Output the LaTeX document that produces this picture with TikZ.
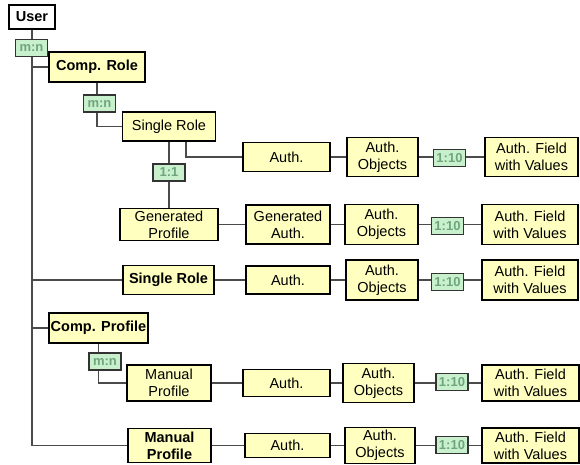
\documentclass[tikz,border=0pt]{standalone}
\usepackage{fontspec}
\setmainfont{Liberation Sans}
\usetikzlibrary{backgrounds}

\definecolor{boxfill}{RGB}{255,255,192}
\definecolor{cardfill}{RGB}{200,240,205}
\definecolor{cardtext}{RGB}{110,165,125}
\definecolor{wirecol}{RGB}{75,75,75}

\begin{document}
\begin{tikzpicture}[x=1pt, y=-1pt,
  entity/.style={draw=black, fill=boxfill, line width=1.3pt, inner sep=0pt, align=center,
    font=\fontsize{14.5}{17}\selectfont},
  head/.style={entity, font=\fontsize{14.5}{17}\selectfont\bfseries},
  card/.style={draw=black!80, fill=cardfill, text=cardtext, line width=1.1pt, inner sep=0pt,
    minimum width=32pt, minimum height=17pt, font=\fontsize{13}{13}\selectfont\bfseries},
  wire/.style={draw=wirecol, line width=1.4pt}]
\useasboundingbox (0,0) rectangle (580,464);

  % Roles
  \node[head, fill=white, minimum width=46pt, minimum height=24pt] (user) at (32,17) {User};
  \node[card] (mnuser) at (31.5,48) {m:n};
  \node[head, minimum width=96pt, minimum height=30pt] (comprole) at (97,67) {Comp. Role};
  \node[card] (mnrole) at (99.5,103.5) {m:n};
  \node[entity, minimum width=93pt, minimum height=29pt] (single) at (169,126.5) {Single Role};
  \node[card] (onetoone) at (169,172.5) {1:1};
  \node[entity, minimum width=98pt, minimum height=32pt] (genprof) at (169,224.5) {Generated\\Profile};
  \node[head, minimum width=91pt, minimum height=29pt] (single2) at (168.5,280) {Single Role};

  % Profiles
  \node[head, minimum width=99pt, minimum height=30pt] (compprof) at (98.5,328) {Comp. Profile};
  \node[card] (mnprof) at (105,361.5) {m:n};
  \node[entity, minimum width=84pt, minimum height=36pt] (manprof) at (169,383) {Manual\\Profile};
  \node[head, minimum width=83pt, minimum height=34pt] (manprof2) at (169.5,445.5) {Manual\\Profile};

  % Authorizations, row by row
  \node[entity, minimum width=87pt, minimum height=29pt] (auth1) at (286.5,157) {Auth.};
  \node[entity, minimum width=71pt, minimum height=39pt] (obj1) at (382.5,157) {Auth.\\Objects};
  \node[card] (ratio1) at (449.5,158) {1:10};
  \node[entity, minimum width=93pt, minimum height=39pt] (field1) at (531.5,157) {Auth. Field\\with Values};

  \node[entity, minimum width=84pt, minimum height=39pt] (auth2) at (288,224.5) {Generated\\Auth.};
  \node[entity, minimum width=73pt, minimum height=40pt] (obj2) at (381.5,224.5) {Auth.\\Objects};
  \node[card] (ratio2) at (447.5,226) {1:10};
  \node[entity, minimum width=96pt, minimum height=40pt] (field2) at (530,224.5) {Auth. Field\\with Values};

  \node[entity, minimum width=84pt, minimum height=28pt] (auth3) at (288,280) {Auth.};
  \node[entity, minimum width=72pt, minimum height=40pt] (obj3) at (382,280) {Auth.\\Objects};
  \node[card] (ratio3) at (447.5,282) {1:10};
  \node[entity, minimum width=96pt, minimum height=40pt] (field3) at (530,280) {Auth. Field\\with Values};

  \node[entity, minimum width=87pt, minimum height=27pt] (auth4) at (286.5,383) {Auth.};
  \node[entity, minimum width=71pt, minimum height=39pt] (obj4) at (378.5,383) {Auth.\\Objects};
  \node[card] (ratio4) at (452,382) {1:10};
  \node[entity, minimum width=97pt, minimum height=36pt] (field4) at (530.5,383) {Auth. Field\\with Values};

  \node[entity, minimum width=85pt, minimum height=24pt] (auth5) at (287.5,445.5) {Auth.};
  \node[entity, minimum width=70pt, minimum height=36pt] (obj5) at (380,445.5) {Auth.\\Objects};
  \node[card] (ratio5) at (452,445) {1:10};
  \node[entity, minimum width=97pt, minimum height=35pt] (field5) at (530.5,445.5) {Auth. Field\\with Values};

  % Connectors behind the boxes
  \begin{scope}[on background layer]
    \draw[wire] (user) |- (comprole);
    \draw[wire] (user) |- (single2);
    \draw[wire] (user) |- (compprof);
    \draw[wire] (user) |- (manprof2);
    \draw[wire] (comprole) |- (single);
    \draw[wire] (single) -- (genprof);
    \draw[wire] ([xshift=17pt]single.center) |- (auth1);
    \draw[wire] (compprof) |- (manprof);
    \draw[wire] (auth1) -- (obj1) -- (field1);
    \draw[wire] (genprof) -- (auth2) -- (obj2) -- (field2);
    \draw[wire] (single2) -- (auth3) -- (obj3) -- (field3);
    \draw[wire] (manprof) -- (auth4) -- (obj4) -- (field4);
    \draw[wire] (manprof2) -- (auth5) -- (obj5) -- (field5);
  \end{scope}
\end{tikzpicture}
\end{document}
